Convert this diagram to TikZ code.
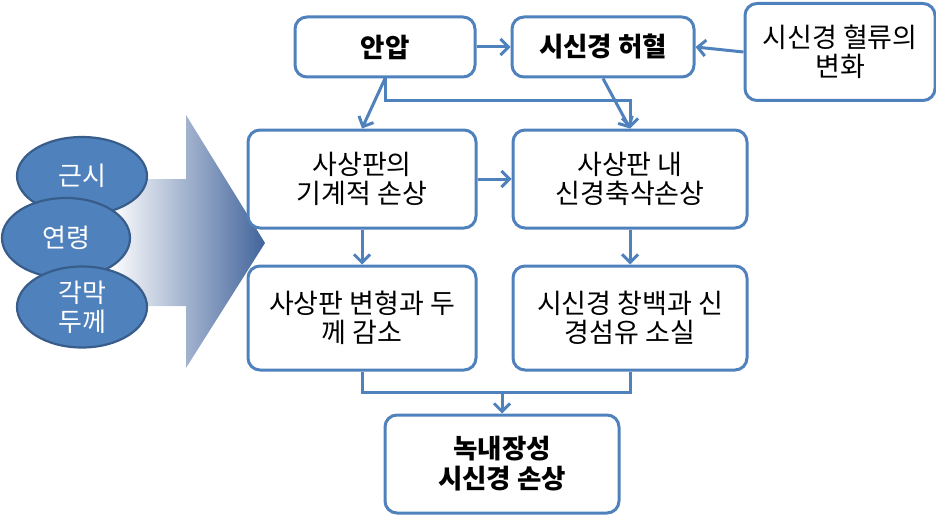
\documentclass[tikz,border=0pt]{standalone}
\usepackage{fontspec}
\setmainfont{Noto Sans CJK KR}
\usetikzlibrary{arrows.meta,shapes.geometric}
\definecolor{boxline}{RGB}{79,129,189}
\definecolor{ellfill}{RGB}{79,129,189}
\definecolor{elledge}{RGB}{56,93,138}
\definecolor{arrdark}{RGB}{66,100,155}
\begin{document}
\begin{tikzpicture}[x=1pt,y=-1pt,
  box/.style={draw=boxline,line width=3pt,rounded corners=12pt,fill=white,
    align=center,inner sep=2pt,font=\fontsize{27}{29}\selectfont},
  boldbox/.style={box,font=\fontsize{26.5}{30}\selectfont\bfseries},
  ell/.style={ellipse,draw=elledge,line width=2.2pt,fill=ellfill,text=white,
    align=center,inner sep=0pt,font=\fontsize{26}{29}\selectfont},
  conn/.style={draw=boxline,line width=3pt},
  arr/.style={conn,-{Straight Barb[length=8pt,width=16pt,line width=3pt]}}]
\useasboundingbox (0,0) rectangle (936,516);
% big gradient arrow
\path[left color=white,right color=arrdark,draw=none]
  (110,179) -- (186,179) -- (186,115) -- (265,243) -- (186,368) -- (186,306) -- (110,306) -- cycle;
% ellipses
\node[ell,minimum width=130pt,minimum height=78pt] (e1) at (82,176) {근시};
\node[ell,minimum width=128pt,minimum height=80pt] (e2) at (66,238) {연령};
\node[ell,minimum width=130pt,minimum height=81pt] (e3) at (82,307) {각막\\두께};
% boxes
\node[boldbox,minimum width=180pt,minimum height=60pt] (an) at (385,47) {안압};
\node[boldbox,minimum width=182pt,minimum height=60pt] (hh) at (603,47) {시신경 허혈};
\node[box,minimum width=190pt,minimum height=97pt] (hr) at (840,52) {시신경 혈류의\\변화};
\node[box,minimum width=228pt,minimum height=98pt] (m1) at (362,179) {사상판의\\기계적 손상};
\node[box,minimum width=234pt,minimum height=98pt] (m2) at (630,179) {사상판 내\\신경축삭손상};
\node[box,minimum width=228pt,minimum height=104pt] (b1) at (362,318) {사상판 변형과 두\\께 감소};
\node[box,minimum width=234pt,minimum height=104pt] (b2) at (630,318) {시신경 창백과 신\\경섬유 소실};
\node[boldbox,minimum width=234pt,minimum height=98pt] (f) at (502,464) {녹내장성\\시신경 손상};
\coordinate (j) at (502,392);
\coordinate (k) at (385,101);
% connectors
\draw[arr] (an.east) -- (hh.west);
\draw[arr] (hr.west) -- (hh.east);
\draw[arr] (an.south) -- (m1.north);
\draw[arr] (an.south) -- (k) -| (m2.north);
\draw[arr] (hh.south) -- (m2.north);
\draw[arr] (m1.east) -- (m2.west);
\draw[arr] (m1.south) -- (b1.north);
\draw[arr] (m2.south) -- (b2.north);
\draw[conn] (b1.south) |- (j) -| (b2.south);
\draw[arr] (j) -- (f.north);
\end{tikzpicture}
\end{document}
